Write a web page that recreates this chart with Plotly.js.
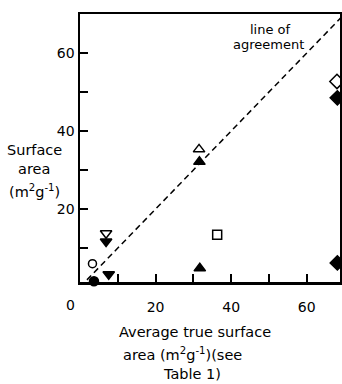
<!DOCTYPE html>
<html>
<head>
<meta charset="utf-8">
<script src="https://cdn.plot.ly/plotly-3.0.1.min.js"></script>
<style>html,body{margin:0;padding:0;background:#fff;}#chart{width:342px;height:384px;}</style>
</head>
<body>
<div id="chart"></div>
<script>
// Data
const agreementX = [0, 70];
const agreementY = [0, 70];

const openCircleX = [3.3];   const openCircleY = [6.0];
const fillCircleX = [3.7];   const fillCircleY = [1.5];
const openInvTriX = [6.9];   const openInvTriY = [13.8];
const fillInvTriX = [6.9, 7.6]; const fillInvTriY = [11.7, 3.3];
const openTriX = [31.5];     const openTriY = [35.3];
const fillTriX = [31.6, 31.7]; const fillTriY = [32.1, 4.8];
const openSquareX = [36.3];  const openSquareY = [13.4];
const fillSquareX = [36.6];  const fillSquareY = [0.6];
const openDiamondX = [68.0]; const openDiamondY = [52.7];
const fillDiamondX = [68.1, 68.1]; const fillDiamondY = [48.5, 6.2];

const tickVals = [10, 20, 30, 40, 50, 60];
const tickText = ['', '20', '', '40', '', '60'];

const font = {family: 'DejaVu Sans, sans-serif', size: 14, color: '#000'};
const titleFont = {family: 'DejaVu Sans, sans-serif', size: 14.5, color: '#000'};
const noteFont = {family: 'DejaVu Sans, sans-serif', size: 13, color: '#000'};

function pts(x, y, symbol, size) {
  return {x: x, y: y, type: 'scatter', mode: 'markers', cliponaxis: false,
    marker: {symbol: symbol, size: size, color: '#000', line: {color: '#000', width: 1.5}},
    showlegend: false, hoverinfo: 'skip'};
}

const traces = [
  {x: agreementX, y: agreementY, type: 'scatter', mode: 'lines',
   line: {color: '#000', width: 1.5, dash: '6px,4px'}, showlegend: false, hoverinfo: 'skip'},
  pts(openCircleX, openCircleY, 'circle-open', 8),
  pts(fillCircleX, fillCircleY, 'circle', 9),
  pts(openInvTriX, openInvTriY, 'triangle-down-open', 10),
  pts(fillInvTriX, fillInvTriY, 'triangle-down', 10),
  pts(openTriX, openTriY, 'triangle-up-open', 10),
  pts(fillTriX, fillTriY, 'triangle-up', 10),
  pts(openSquareX, openSquareY, 'square-open', 9),
  pts(fillSquareX, fillSquareY, 'square', 9),
  pts(openDiamondX, openDiamondY, 'diamond-open', 11),
  pts(fillDiamondX, fillDiamondY, 'diamond', 11)
];

function note(px, py, text, f, xanchor) {
  return {xref: 'paper', yref: 'paper', x: (px - 80) / 260, y: (282 - py) / 268,
    text: text, showarrow: false, font: f || titleFont, xanchor: xanchor || 'center', yanchor: 'middle'};
}

const layout = {
  width: 342, height: 384,
  margin: {l: 80, r: 2, t: 14, b: 102},
  paper_bgcolor: '#fff', plot_bgcolor: '#fff',
  font: font,
  showlegend: false,
  xaxis: {range: [0, 68.8], tickmode: 'array', tickvals: tickVals, ticktext: tickText,
    ticks: 'inside', ticklen: 8, tickwidth: 2, tickcolor: '#000',
    showline: true, linewidth: 2.5, linecolor: '#000', mirror: true,
    showgrid: false, zeroline: false, ticklabelstandoff: 11, tickfont: font},
  yaxis: {range: [1.3, 70], tickmode: 'array', tickvals: tickVals, ticktext: tickText,
    ticks: 'inside', ticklen: 8, tickwidth: 2, tickcolor: '#000',
    showline: true, linewidth: 2.5, linecolor: '#000', mirror: true,
    showgrid: false, zeroline: false, ticklabelstandoff: 0, tickfont: font},
  annotations: [
    note(70, 305, '0', font),
    note(270, 30, 'line of', noteFont),
    note(268, 44, 'agreement', noteFont),
    note(34, 150, 'Surface'),
    note(34, 169, 'area'),
    note(34, 191, '(m<sup>2</sup>g<sup>-1</sup>)'),
    note(195, 332, 'Average true surface'),
    note(182, 354, 'area (m<sup>2</sup>g<sup>-1</sup>)(see'),
    note(192, 374, 'Table 1)')
  ]
};

Plotly.newPlot('chart', traces, layout, {staticPlot: true, displayModeBar: false});
</script>
</body>
</html>
